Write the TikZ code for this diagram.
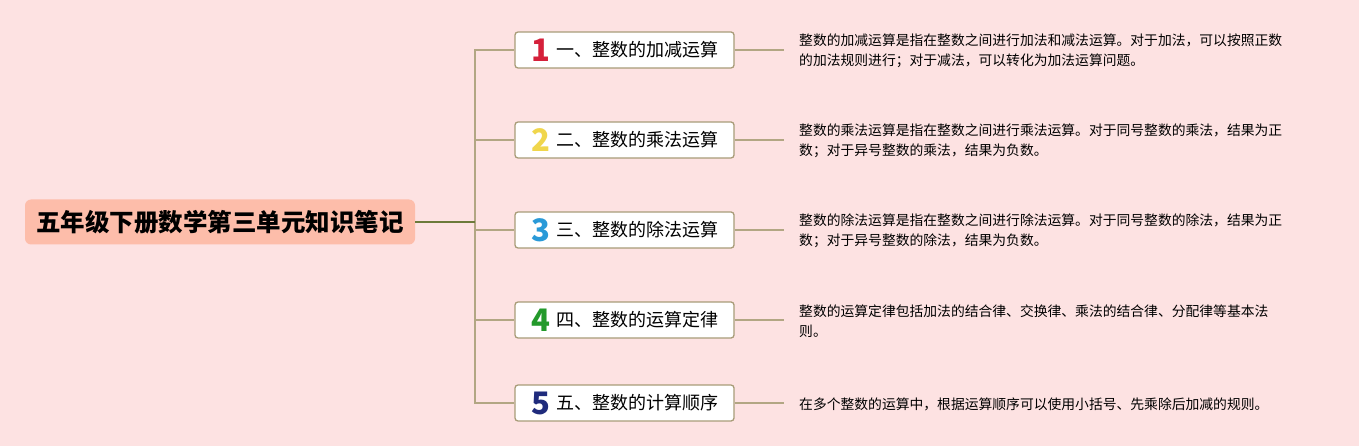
\documentclass[tikz,border=0pt]{standalone}
\usepackage{fontspec}
\newfontfamily\cjk{Noto Sans CJK SC}
\usepackage{tikz}
\usetikzlibrary{positioning,calc}
\definecolor{bgPink}{HTML}{FDE2E2}
\definecolor{rootFill}{HTML}{FDBDAA}
\definecolor{rootLine}{HTML}{6C7A3A}
\definecolor{branchLine}{HTML}{B2A683}
\definecolor{boxLine}{HTML}{A89C78}
\definecolor{numRed}{HTML}{D5203A}
\definecolor{numYellow}{HTML}{F0D64C}
\definecolor{numBlue}{HTML}{2A9AD8}
\definecolor{numGreen}{HTML}{23992B}
\definecolor{numNavy}{HTML}{1F2B7C}

\begin{document}
\begin{tikzpicture}[x=1pt, y=-1pt, font=\cjk,
  rootbox/.style={fill=rootFill, rounded corners=6pt, minimum width=390pt, minimum height=45pt,
    font=\cjk\bfseries\fontsize{24.5}{28}\selectfont},
  topicbox/.style={draw=boxLine, line width=1.3pt, fill=white, rounded corners=3pt,
    minimum width=219pt, minimum height=36pt, inner sep=0pt},
  numlabel/.style={font=\cjk\bfseries\fontsize{31}{32}\selectfont, inner sep=0pt},
  topictext/.style={font=\cjk\fontsize{18}{20}\selectfont, inner sep=0pt, anchor=west},
  desc/.style={anchor=west, align=left, inner xsep=15pt, inner ysep=0pt,
    font=\cjk\fontsize{13.8}{20.5}\selectfont},
  rootlink/.style={draw=rootLine, line width=1.3pt},
  branch/.style={draw=branchLine, line width=1.3pt}]
% page and background
\useasboundingbox[fill=bgPink] (0,0) rectangle (1359,446);
% ---------- root ----------
\node[rootbox] (root) at (220,222) {五年级下册数学第三单元知识笔记};
\coordinate (fork) at (475,222);
% ---------- topics ----------
\node[topicbox] (t1) at (624.5,50) {};
\node[topicbox] (t2) at (624.5,140) {};
\node[topicbox] (t3) at (624.5,230) {};
\node[topicbox] (t4) at (624.5,320) {};
\node[topicbox] (t5) at (624.5,403) {};
\node[numlabel, numRed]    (n1) at (541,50)  {1};
\node[numlabel, numYellow] (n2) at (541,140) {2};
\node[numlabel, numBlue]   (n3) at (541,230) {3};
\node[numlabel, numGreen]  (n4) at (541,320) {4};
\node[numlabel, numNavy]   (n5) at (541,403) {5};
\node[topictext] (l1) at (556,50)  {一、整数的加减运算};
\node[topictext] (l2) at (556,140) {二、整数的乘法运算};
\node[topictext] (l3) at (556,230) {三、整数的除法运算};
\node[topictext] (l4) at (556,320) {四、整数的运算定律};
\node[topictext] (l5) at (556,403) {五、整数的计算顺序};
% ---------- notes ----------
\node[desc] (d1) at (784,51) {整数的加减运算是指在整数之间进行加法和减法运算。对于加法，可以按照正数\\的加法规则进行；对于减法，可以转化为加法运算问题。};
\node[desc] (d2) at (784,141) {整数的乘法运算是指在整数之间进行乘法运算。对于同号整数的乘法，结果为正\\数；对于异号整数的乘法，结果为负数。};
\node[desc] (d3) at (784,231) {整数的除法运算是指在整数之间进行除法运算。对于同号整数的除法，结果为正\\数；对于异号整数的除法，结果为负数。};
\node[desc] (d4) at (784,321) {整数的运算定律包括加法的结合律、交换律、乘法的结合律、分配律等基本法\\则。};
\node[desc] (d5) at (784,404) {在多个整数的运算中，根据运算顺序可以使用小括号、先乘除后加减的规则。};
% ---------- links ----------
\draw[branch] (fork) |- (t1.west);
\draw[branch] (fork) |- (t2.west);
\draw[branch] (fork) |- (t3.west);
\draw[branch] (fork) |- (t4.west);
\draw[branch] (fork) |- (t5.west);
\draw[rootlink] (root.east) -- (fork);
\draw[branch] (t1.east) -- (t1.east -| d1.west);
\draw[branch] (t2.east) -- (t2.east -| d2.west);
\draw[branch] (t3.east) -- (t3.east -| d3.west);
\draw[branch] (t4.east) -- (t4.east -| d4.west);
\draw[branch] (t5.east) -- (t5.east -| d5.west);
\end{tikzpicture}
\end{document}
